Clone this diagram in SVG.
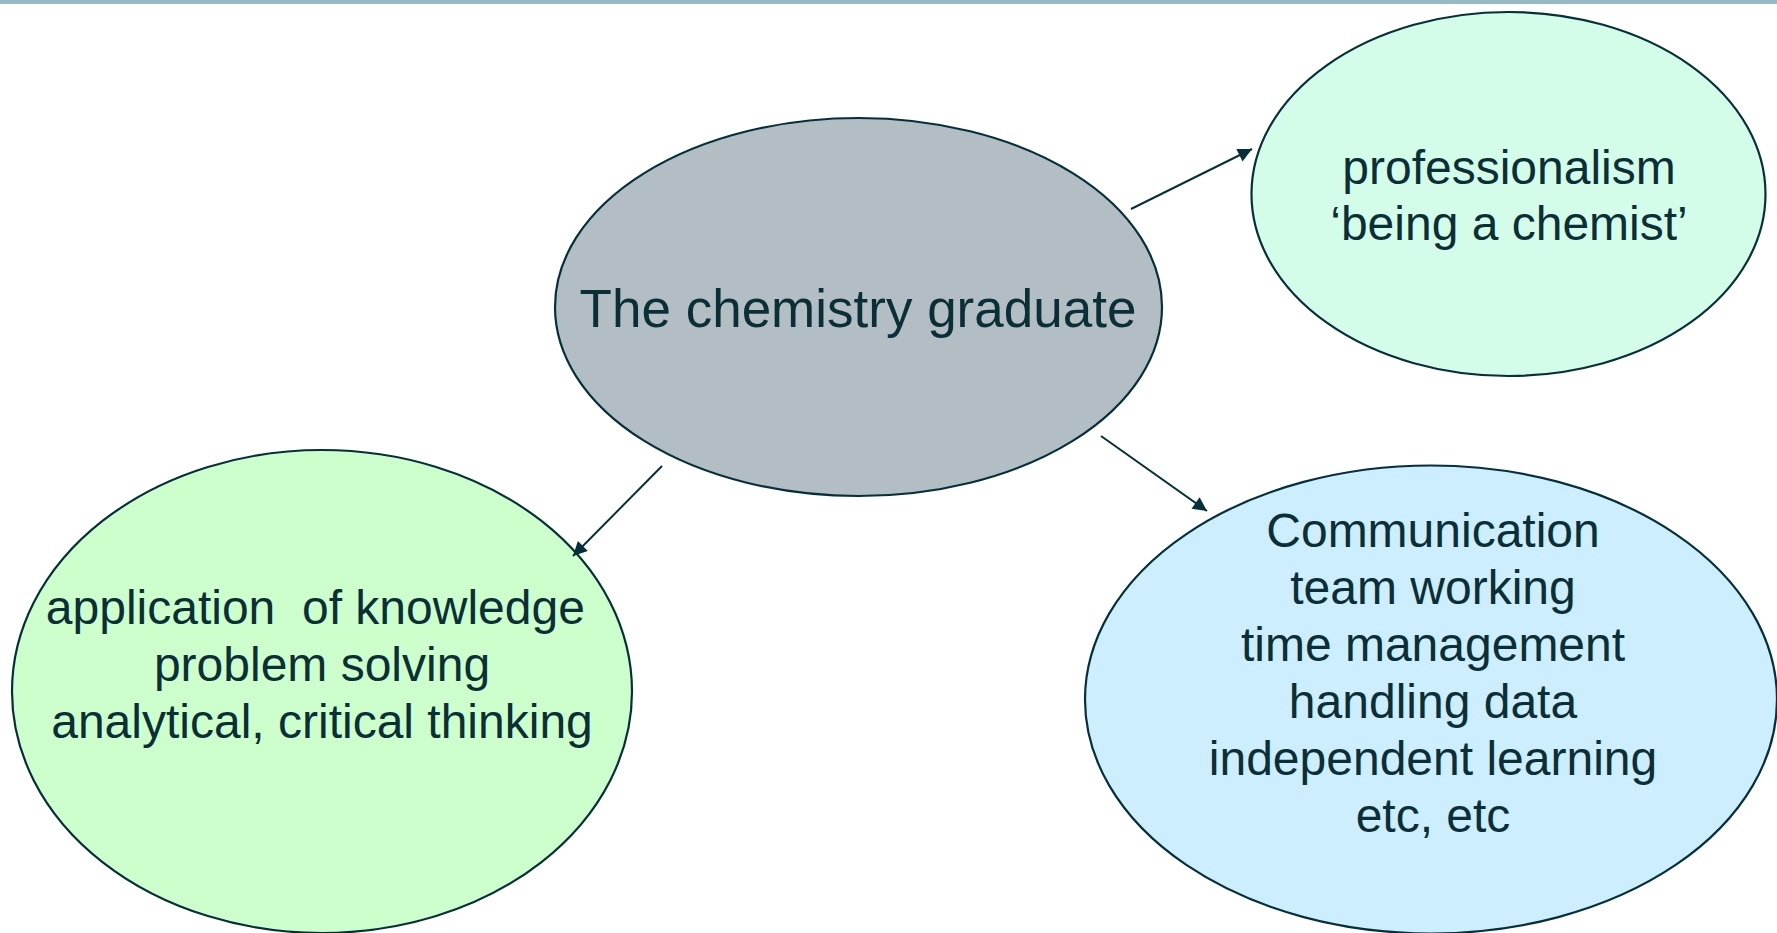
<svg xmlns="http://www.w3.org/2000/svg" width="1777" height="933" viewBox="0 0 1777 933">
  <style>
    .node { stroke: #05303a; stroke-width: 2.2; }
    .label { font-family: "Liberation Sans", Arial, sans-serif; fill: #0b2f36; text-anchor: middle; font-size: 48px; }
    .title { font-size: 53px; }
    .edge { stroke: #05303a; stroke-width: 2; fill: none; marker-end: url(#head); }
  </style>
  <defs>
    <marker id="head" viewBox="0 0 10 10" refX="10" refY="5" markerWidth="18" markerHeight="14" markerUnits="userSpaceOnUse" orient="auto">
      <path d="M0,0 L10,5 L0,10 Z" fill="#05303a"/>
    </marker>
  </defs>

  <rect x="0" y="0" width="1777" height="4" fill="#97b9c4"/>

  <g id="graduate">
    <ellipse class="node" cx="858.5" cy="307" rx="303.5" ry="189" fill="#b2bec3"/>
    <text class="label title" x="858" y="327">The chemistry graduate</text>
  </g>

  <g id="professionalism">
    <ellipse class="node" cx="1508.5" cy="194" rx="257" ry="182" fill="#d4fde9"/>
    <text class="label" x="1509" y="184">professionalism</text>
    <text class="label" x="1509" y="240">‘being a chemist’</text>
  </g>

  <g id="knowledge">
    <ellipse class="node" cx="322" cy="691.5" rx="310" ry="241.5" fill="#ccffcc"/>
    <text class="label" x="322" y="624" style="white-space:pre">application  of knowledge </text>
    <text class="label" x="322" y="681">problem solving</text>
    <text class="label" x="322" y="738">analytical, critical thinking</text>
  </g>

  <g id="skills">
    <ellipse class="node" cx="1431" cy="699.5" rx="346" ry="234" fill="#cceeff"/>
    <text class="label" x="1433" y="547">Communication</text>
    <text class="label" x="1433" y="604">team working</text>
    <text class="label" x="1433" y="661">time management</text>
    <text class="label" x="1433" y="718">handling data</text>
    <text class="label" x="1433" y="775">independent learning</text>
    <text class="label" x="1433" y="832">etc, etc</text>
  </g>

  <g id="connectors">
    <line class="edge" x1="1131" y1="209" x2="1252" y2="149"/>
    <line class="edge" x1="662" y1="466" x2="573" y2="556"/>
    <line class="edge" x1="1101" y1="436" x2="1207" y2="511"/>
  </g>
</svg>
